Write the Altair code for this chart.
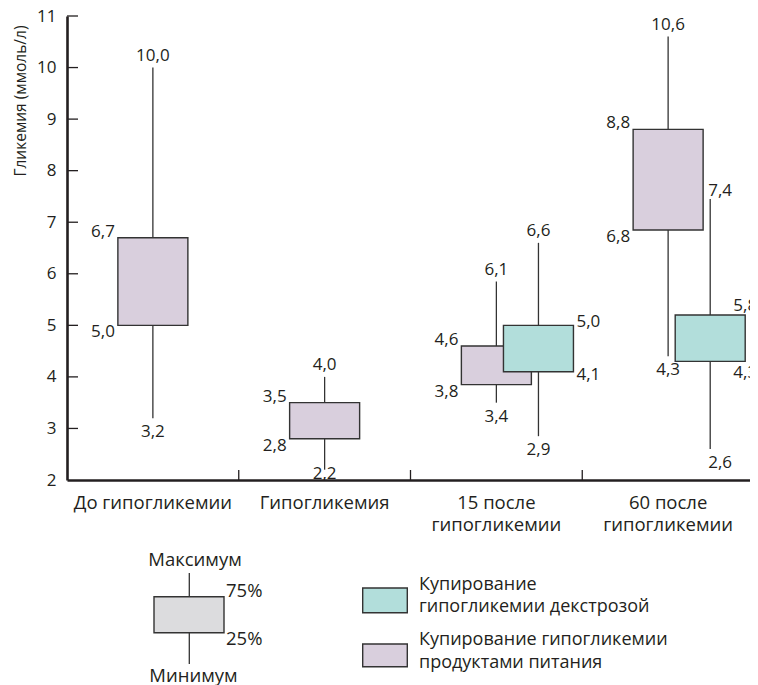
import altair as alt
import pandas as pd

# ---------------- data ----------------
groups = ["До гипогликемии", "Гипогликемия", "15 после\nгипогликемии", "60 после\nгипогликемии"]
series = ["Купирование гипогликемии продуктами питания", "Купирование гипогликемии декстрозой"]

# food (lavender) boxes, one per group
food_max = [10.0, 4.0, 5.85, 10.6]
food_q3 = [6.7, 3.5, 4.6, 8.8]
food_q1 = [5.0, 2.8, 3.85, 6.85]
food_min = [3.2, 2.2, 3.5, 4.4]
food_txt_max = ["10,0", "4,0", "6,1", "10,6"]
food_txt_q3 = ["6,7", "3,5", "4,6", "8,8"]
food_txt_q1 = ["5,0", "2,8", "3,8", "6,8"]
food_txt_min = ["3,2", "2,2", "3,4", "4,3"]

# dextrose (teal) boxes, groups 3 and 4
dex_groups = [2, 3]
dex_max = [6.6, 7.45]
dex_q3 = [5.0, 5.2]
dex_q1 = [4.1, 4.3]
dex_min = [2.85, 2.6]
dex_txt_max = ["6,6", "7,4"]
dex_txt_q3 = ["5,0", "5,8"]
dex_txt_q1 = ["4,1", "4,3"]
dex_txt_min = ["2,9", "2,6"]

y_ticks = list(range(2, 12))
key_labels = ["Максимум", "75%", "25%", "Минимум"]
legend_text = ["Купирование\nгипогликемии декстрозой", "Купирование гипогликемии\nпродуктами питания"]

# ---------------- layout / style ----------------
W, H = 687, 464
PX_X = W / 4.0
PX_Y = H / 9.0
HALF = 35 / PX_X
OFFSET = {"food": 0.0, "dex": 0.245}
FOOD, DEX, GREY = "#d9cfdd", "#b2dedb", "#dcdcde"
STROKE = "#333333"
INK = "#231f20"
FS = 17
FS_TXT = 18.5

PLACE = {
    "food": {"max": ("x", "center", 0, -7), "min": ("x", "center", 0, 19),
             "q3": ("lo", "right", -3, -1), "q1": ("lo", "right", -3, 12)},
    "dex": {"max": ("x", "center", 0, -7), "min": ("x", "center", 0, 19),
            "q3": ("hi", "left", 3, 2), "q1": ("hi", "left", 3, 8.7)},
}
OVERRIDE = {("dex", 3): {"max": ("x", "left", -2, -3), "min": ("x", "left", -2, 18.7),
                         "q3": ("hi", "center", 0, -4), "q1": ("hi", "center", 0, 17)}}

boxes, labels = [], []


def add(ser, gi, vals, txts):
    x = gi + 0.5 + OFFSET[ser]
    row = dict(series=series[0] if ser == "food" else series[1], x=x, lo=x - HALF, hi=x + HALF,
               min=vals[0], q1=vals[1], q3=vals[2], max=vals[3])
    boxes.append(row)
    place = OVERRIDE.get((ser, gi), PLACE[ser])
    for stat, t in zip(["min", "q1", "q3", "max"], txts):
        anchor, align, dx, dy = place[stat]
        lx = row[anchor] + dx / PX_X
        ly = row[stat] - dy / PX_Y
        if stat == "min":
            ly = max(ly, 2 + 1.5 / PX_Y)
        labels.append(dict(t=t, lx=lx, ly=ly, align=align))


for i in range(4):
    add("food", i, [food_min[i], food_q1[i], food_q3[i], food_max[i]],
        [food_txt_min[i], food_txt_q1[i], food_txt_q3[i], food_txt_max[i]])
for j, gi in enumerate(dex_groups):
    add("dex", gi, [dex_min[j], dex_q1[j], dex_q3[j], dex_max[j]],
        [dex_txt_min[j], dex_txt_q1[j], dex_txt_q3[j], dex_txt_max[j]])

box_df = pd.DataFrame(boxes)
lab_df = pd.DataFrame(labels)

xscale = alt.Scale(domain=[0, 4], nice=False, zero=False)
yscale = alt.Scale(domain=[2, 11], nice=False, zero=False)
xaxis = alt.Axis(labels=False, ticks=False, grid=False, title=None,
                 domainColor=INK, domainWidth=2.6)
yaxis = alt.Axis(values=y_ticks, ticks=False, grid=False, labelFontSize=FS, labelColor=INK,
                 labelPadding=11, domainColor=INK, domainWidth=2.6,
                 title="Гликемия (ммоль/л)", titleFontSize=15.5, titleFontWeight="normal",
                 titleColor=INK, titleAngle=270, titleAlign="right", titleBaseline="middle",
                 titleX=-47, titleY=9)


def X(f):
    return alt.X(f, type="quantitative", scale=xscale, axis=xaxis)


def Y(f):
    return alt.Y(f, type="quantitative", scale=yscale, axis=yaxis)


color = alt.Color("series:N", scale=alt.Scale(domain=series, range=[FOOD, DEX]), legend=None)

whiskers = alt.Chart(box_df).mark_rule(color=STROKE, strokeWidth=1.3).encode(
    x=X("x"), y=Y("min"), y2="max")
rects = alt.Chart(box_df).mark_rect(stroke=STROKE, strokeWidth=1.4).encode(
    x=X("lo"), x2="hi", y=Y("q1"), y2="q3", color=color)

ytick_layer = alt.Chart(pd.DataFrame({"v": y_ticks[1:]})).mark_rule(
    color=INK, strokeWidth=1.3).encode(y=Y("v"), x=alt.value(0), x2=alt.value(11))
xtick_layer = alt.Chart(pd.DataFrame({"v": [1, 2, 3, 4]})).mark_rule(
    color=INK, strokeWidth=1.3).encode(x=X("v"), y=alt.value(H), y2=alt.value(H - 10))

label_layers = []
for al in ["left", "center", "right"]:
    label_layers.append(
        alt.Chart(lab_df).transform_filter(alt.datum.align == al)
        .mark_text(align=al, baseline="alphabetic", fontSize=FS, color=INK)
        .encode(x=X("lx"), y=Y("ly"), text="t:N"))

cat_df = pd.DataFrame({"c": [i + 0.5 for i in range(4)], "name": groups})
cat_layer = alt.Chart(cat_df).mark_text(
    align="center", baseline="top", fontSize=FS_TXT, lineBreak="\n", lineHeight=21.5, color=INK
).encode(x=X("c"), y=alt.value(H + 14), text="name:N")

# ---- key (box explanation) ----
one = pd.DataFrame({"k": [0]})
key_whisker = alt.Chart(one).mark_rule(color=STROKE, strokeWidth=1.3).encode(
    x=alt.value(122.3), y=alt.value(557), y2=alt.value(648))
key_box = alt.Chart(one).mark_rect(fill=GREY, stroke=STROKE, strokeWidth=1.4).encode(
    x=alt.value(87), x2=alt.value(157), y=alt.value(580.7), y2=alt.value(616.7))
key_pos = [(128, 550, "center"), (159, 581, "left"), (159, 629, "left"), (126.5, 665.7, "center")]
key_texts = []
for (kx, ky, al), t in zip(key_pos, key_labels):
    key_texts.append(alt.Chart(pd.DataFrame({"t": [t]})).mark_text(
        align=al, baseline="alphabetic", fontSize=FS_TXT, color=INK).encode(
        x=alt.value(kx), y=alt.value(ky), text="t:N"))

# ---- series legend ----
leg_layers = []
for (sy0, sy1, ty), fill, t in zip([(572, 596.7, 573.5), (628, 650.7, 629)], [DEX, FOOD], legend_text):
    leg_layers.append(alt.Chart(one).mark_rect(fill=fill, stroke=STROKE, strokeWidth=1.4).encode(
        x=alt.value(295.7), x2=alt.value(340.3), y=alt.value(sy0), y2=alt.value(sy1)))
    leg_layers.append(alt.Chart(pd.DataFrame({"t": [t]})).mark_text(
        align="left", baseline="alphabetic", fontSize=18, lineBreak="\n", lineHeight=22.5,
        color=INK).encode(x=alt.value(352), y=alt.value(ty), text="t:N"))

chart = alt.layer(
    whiskers, rects, ytick_layer, xtick_layer, *label_layers, cat_layer,
    key_whisker, key_box, *key_texts, *leg_layers
).properties(
    width=W, height=H,
    autosize=alt.AutoSizeParams(type="none"),
    padding={"left": 59, "top": 8, "right": -4, "bottom": 205},
).configure(font="Open Sans").configure_view(stroke=None)

chart.save("out.html", embed_options={"renderer": "svg", "actions": False})
